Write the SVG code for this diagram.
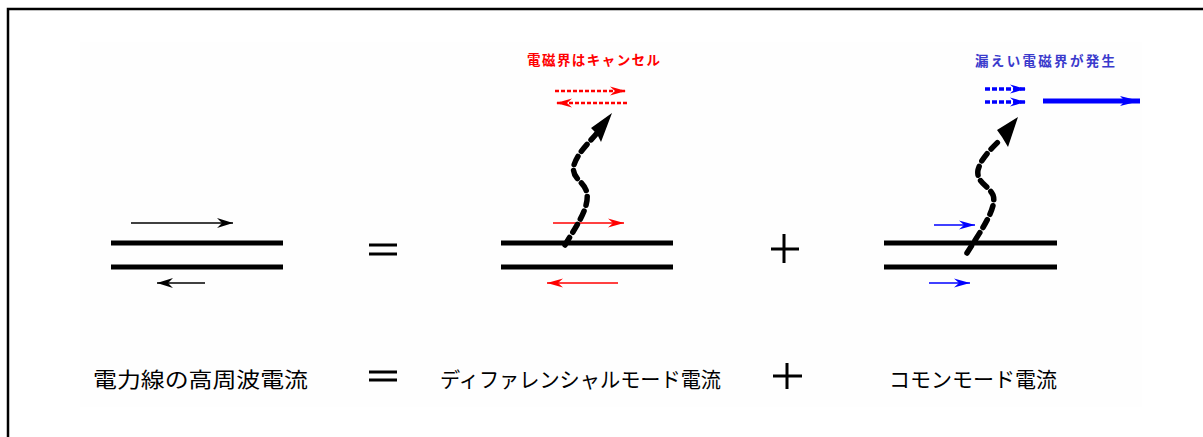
<svg xmlns="http://www.w3.org/2000/svg" width="1203" height="437" viewBox="0 0 1203 437">
<defs>
<style>
.wire{stroke:#000;stroke-width:5;fill:none}
.thin{stroke-width:1.4;fill:none}
.wave{stroke:#000;stroke-width:5.5;fill:none;stroke-dasharray:9 6;stroke-linecap:round}
.lbl{font-family:"Noto Sans CJK JP","Noto Sans",sans-serif}
.sym{stroke:#000;stroke-width:3;fill:none}
</style>
<marker id="ahK" markerUnits="userSpaceOnUse" markerWidth="20" markerHeight="12" viewBox="-16 -6 18 12" refX="0" refY="0" orient="auto">
<path d="M0,0 L-16,-5 L-11,0 L-16,5 Z" fill="#000"/>
</marker>
<marker id="ahR" markerUnits="userSpaceOnUse" markerWidth="20" markerHeight="12" viewBox="-16 -6 18 12" refX="0" refY="0" orient="auto">
<path d="M0,0 L-16,-4.5 L-11,0 L-16,4.5 Z" fill="#ff0000"/>
</marker>
<marker id="ahB" markerUnits="userSpaceOnUse" markerWidth="20" markerHeight="12" viewBox="-16 -6 18 12" refX="0" refY="0" orient="auto">
<path d="M0,0 L-16,-4.5 L-11,0 L-16,4.5 Z" fill="#0000ff"/>
</marker>
<marker id="ahBB" markerUnits="userSpaceOnUse" markerWidth="24" markerHeight="14" viewBox="-22 -7 24 14" refX="0" refY="0" orient="auto">
<path d="M0,0 L-20,-5 L-15,0 L-20,5 Z" fill="#0000ff"/>
</marker>
</defs>
<rect x="0" y="0" width="1203" height="437" fill="#fff"/>
<rect x="80" y="42" width="1062" height="365" fill="#fefefe"/>
<path d="M8,437 V9 H1203" stroke="#000" stroke-width="2.5" fill="none"/>

<g id="panel-total">
<line class="wire" x1="111" y1="243" x2="283" y2="243"/>
<line class="wire" x1="111" y1="267" x2="283" y2="267"/>
</g>
<g id="eq-top">
<line class="sym" x1="369" y1="245" x2="397" y2="245"/>
<line class="sym" x1="369" y1="254" x2="397" y2="254"/>
</g>
<g id="panel-diff">
<line class="wire" x1="501" y1="243" x2="673" y2="243"/>
<line class="wire" x1="501" y1="267" x2="673" y2="267"/>
<text class="lbl" x="527" y="65" font-size="13.5" font-weight="bold" fill="#ff0000" textLength="133" lengthAdjust="spacing">電磁界はキャンセル</text>
</g>
<g id="plus-top">
<line class="sym" x1="771" y1="249" x2="799" y2="249"/>
<line class="sym" x1="784" y1="234" x2="784" y2="263"/>
</g>
<g id="panel-common">
<line class="wire" x1="884" y1="243" x2="1057" y2="243"/>
<line class="wire" x1="884" y1="267" x2="1057" y2="267"/>
<text class="lbl" x="975" y="66" font-size="13.5" font-weight="bold" fill="#3a3acc" textLength="140" lengthAdjust="spacing">漏えい電磁界が発生</text>
</g>

<g id="connectors">
<line class="thin" stroke="#000" x1="131" y1="223" x2="233" y2="223" marker-end="url(#ahK)"/>
<line class="thin" stroke="#000" x1="205" y1="283" x2="157" y2="283" marker-end="url(#ahK)"/>

<line class="thin" stroke="#ff0000" x1="553" y1="223" x2="624" y2="223" marker-end="url(#ahR)"/>
<line class="thin" stroke="#ff0000" x1="618" y1="283" x2="547" y2="283" marker-end="url(#ahR)"/>
<line stroke="#ff0000" stroke-width="2.5" stroke-dasharray="4 2" x1="555" y1="91" x2="626" y2="91" marker-end="url(#ahR)"/>
<line stroke="#ff0000" stroke-width="2.5" stroke-dasharray="4 2" x1="627" y1="103" x2="556" y2="103" marker-end="url(#ahR)"/>
<path class="wave" d="M565,245 C575,228 592,205 586,190 C582,180 571,178 574,165 C578,152 590,142 597,133"/>
<polygon points="612,113 591,128 597,134 601,142" fill="#000"/>

<line class="thin" stroke="#0000ff" x1="934" y1="225" x2="975" y2="225" marker-end="url(#ahB)"/>
<line class="thin" stroke="#0000ff" x1="929" y1="283" x2="970" y2="283" marker-end="url(#ahB)"/>
<line stroke="#0000ff" stroke-width="3.5" stroke-dasharray="5 2" x1="985" y1="89" x2="1026" y2="89" marker-end="url(#ahB)"/>
<line stroke="#0000ff" stroke-width="3.5" stroke-dasharray="5 2" x1="985" y1="102" x2="1026" y2="102" marker-end="url(#ahB)"/>
<line stroke="#0000ff" stroke-width="5" x1="1043" y1="101" x2="1140" y2="101" marker-end="url(#ahBB)"/>
<path class="wave" d="M967,253 C978,235 998,208 993,195 C988,185 976,182 978,170 C981,158 992,148 1001,139"/>
<polygon points="1018,117 997,130 1002,137 1008,147" fill="#000"/>
</g>

<g id="caption-total">
<text class="lbl" x="93" y="387" font-size="21" fill="#000" textLength="215" lengthAdjust="spacingAndGlyphs">電力線の高周波電流</text>
</g>
<g id="eq-bottom">
<line class="sym" x1="369" y1="372" x2="397" y2="372"/>
<line class="sym" x1="369" y1="380" x2="397" y2="380"/>
</g>
<g id="caption-diff">
<text class="lbl" x="440" y="387" font-size="21" fill="#000" textLength="281" lengthAdjust="spacingAndGlyphs">ディファレンシャルモード電流</text>
</g>
<g id="plus-bottom">
<line class="sym" x1="773" y1="376" x2="802" y2="376"/>
<line class="sym" x1="787" y1="363" x2="787" y2="389"/>
</g>
<g id="caption-common">
<text class="lbl" x="889" y="387" font-size="21" fill="#000" textLength="168" lengthAdjust="spacingAndGlyphs">コモンモード電流</text>
</g>
</svg>
